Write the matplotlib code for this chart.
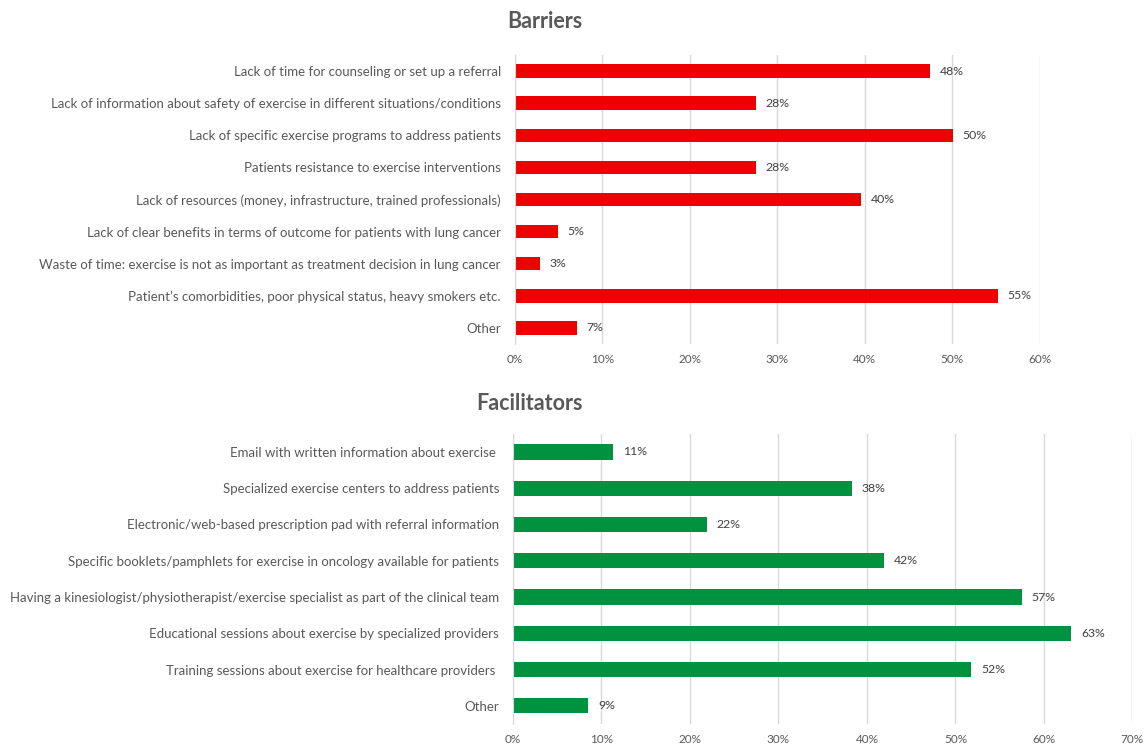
import matplotlib
matplotlib.use("Agg")
import matplotlib.pyplot as plt
from matplotlib.ticker import PercentFormatter

plt.rcParams['font.family'] = ['Lato', 'DejaVu Sans']

# Data
barrier_labels = [
    "Lack of time for counseling or set up a referral",
    "Lack of information about safety of exercise in different situations/conditions",
    "Lack of specific exercise programs to address patients",
    "Patients resistance to exercise interventions",
    "Lack of resources (money, infrastructure, trained professionals)",
    "Lack of clear benefits in terms of outcome for patients with lung cancer",
    "Waste of time: exercise is not as important as treatment decision in lung cancer",
    "Patient\u2019s comorbidities, poor physical status, heavy smokers etc.",
    "Other",
]
barrier_values = [47.5, 27.6, 50.1, 27.6, 39.6, 4.9, 2.9, 55.2, 7.1]
barrier_text = ["48%", "28%", "50%", "28%", "40%", "5%", "3%", "55%", "7%"]

facilitator_labels = [
    "Email with written information about exercise ",
    "Specialized exercise centers to address patients",
    "Electronic/web-based prescription pad with referral information",
    "Specific booklets/pamphlets for exercise in oncology available for patients",
    "Having a kinesiologist/physiotherapist/exercise specialist as part of the clinical team",
    "Educational sessions about exercise by specialized providers",
    "Training sessions about exercise for healthcare providers ",
    "Other",
]
facilitator_values = [11.3, 38.3, 21.9, 41.9, 57.5, 63.1, 51.8, 8.5]
facilitator_text = ["11%", "38%", "22%", "42%", "57%", "63%", "52%", "9%"]

text_color = "#595959"
grid_color = "#D9D9D9"


def draw_panel(ax, labels, values, texts, color, xmax):
    y = list(range(len(labels)))
    ax.barh(y, values, height=0.42, color=color, zorder=3)
    ax.set_yticks(y)
    ax.set_yticklabels(labels, fontsize=9.5, color=text_color)
    ax.set_ylim(len(labels) - 0.5, -0.5)
    ax.set_xlim(0, xmax)
    ax.set_xticks(range(0, xmax + 1, 10))
    ax.xaxis.set_major_formatter(PercentFormatter(decimals=0))
    ax.tick_params(axis="x", labelsize=8.5, colors=text_color, length=0, pad=7)
    ax.tick_params(axis="y", length=0, pad=10)
    ax.grid(axis="x", color=grid_color, linewidth=1, zorder=0)
    for s in ["top", "right", "bottom"]:
        ax.spines[s].set_visible(False)
    ax.spines["left"].set_color(grid_color)
    ax.spines["left"].set_zorder(4)
    for yi, v, t in zip(y, values, texts):
        ax.annotate(t, (v, yi), xytext=(7, 0), textcoords="offset points",
                    va="center", ha="left", fontsize=8.8, color="#404040")


fig = plt.figure(figsize=(11.45, 7.46), dpi=100)

ax1 = fig.add_axes([0.4495, 0.5389, 0.4585, 0.3874])
draw_panel(ax1, barrier_labels, barrier_values, barrier_text, "#EE0000", 60)

ax2 = fig.add_axes([0.448, 0.0295, 0.541, 0.389])
draw_panel(ax2, facilitator_labels, facilitator_values, facilitator_text, "#00923F", 70)

fig.text(545 / 1145, 1 - 22 / 746, "Barriers", ha="center", va="center",
         fontsize=15.5, fontweight="bold", color=text_color)
fig.text(529 / 1145, 1 - 404 / 746, "Facilitators", ha="center", va="center",
         fontsize=15.5, fontweight="bold", color=text_color)

fig.savefig("out.png", dpi=100)
